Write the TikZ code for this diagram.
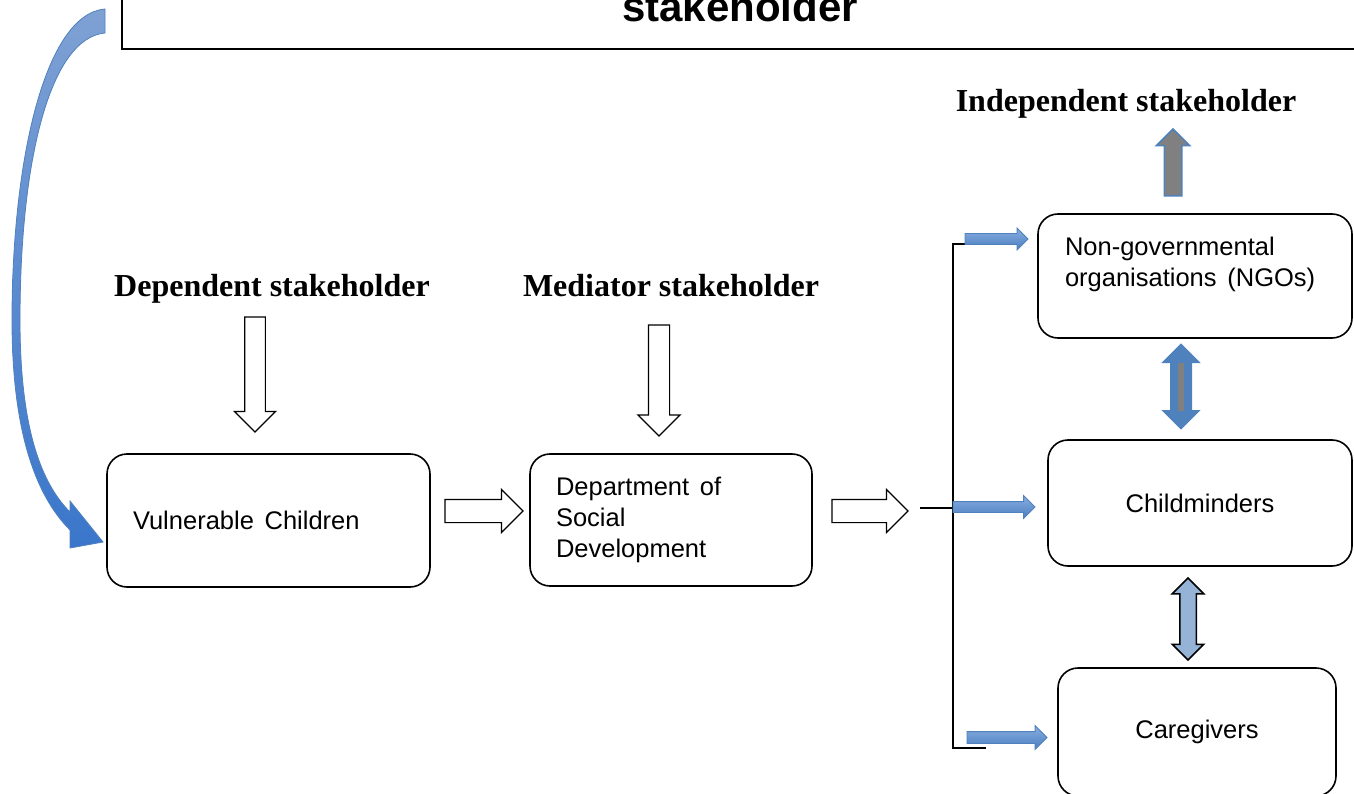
\documentclass[tikz,border=0pt]{standalone}
\usepackage{fontspec}
\setmainfont{Liberation Serif}
\setsansfont{Liberation Sans}
\usepackage{tikz}
\usetikzlibrary{shapes.arrows,calc}
\definecolor{accblue}{HTML}{4F81BD}
\definecolor{paleblue}{HTML}{95B3D7}
\definecolor{blueA}{HTML}{8AAEE0}
\definecolor{blueB}{HTML}{4A7EC0}
\definecolor{curveA}{HTML}{7FA1D4}
\definecolor{curveB}{HTML}{3A76CB}
\newcommand{\gap}{\hspace{0.42em}}

\begin{document}
\begin{tikzpicture}[x=1pt,y=-1pt,
    box/.style={draw, rounded corners=20pt, line width=1.6pt, align=left, inner ysep=0pt,
      font=\sffamily\fontsize{25.5}{31}\selectfont},
    role/.style={anchor=base, font=\bfseries\fontsize{32}{36}\selectfont},
    hollow/.style={single arrow, draw, fill=white, line width=1.2pt, outer sep=0pt, anchor=tail},
    bluearr/.style={single arrow, draw=accblue, line width=0.8pt, top color=blueA,
      bottom color=blueB, outer sep=0pt, anchor=tail, inner sep=5pt},
    link/.style={line width=1.8pt}]
  \useasboundingbox (0,0) rectangle (1354,794);
  \clip (0,0) rectangle (1354,794);
  % heading box, cut at the top
  \node[draw, line width=1.8pt, minimum width=1236pt, minimum height=84.6pt,
    font=\sffamily\bfseries\fontsize{42}{48}\selectfont] (title) at (740,6.7) {stakeholder};
  % stakeholder groups
  \node[role] (dep) at (272,297) {Dependent stakeholder};
  \node[role] (med) at (671,297) {Mediator stakeholder};
  \node[role] (ind) at (1126,112) {Independent stakeholder};
  % boxes
  \node[box, minimum width=323pt, minimum height=133pt, text width=271pt, inner xsep=26pt]
    (vul) at (268.5,520.5) {Vulnerable\gap Children};
  \node[box, minimum width=282pt, minimum height=132pt, text width=230pt, inner xsep=26pt]
    (dsd) at (671,520) {Department\gap of\\Social\\Development};
  \node[box, minimum width=314pt, minimum height=124pt, text width=260pt, inner xsep=27pt,
    text depth=59pt] (ngo) at (1195,276) {Non-governmental\\organisations\gap (NGOs)};
  \node[box, minimum width=304pt, minimum height=126pt] (cm) at (1200,503) {Childminders};
  \node[box, minimum width=278pt, minimum height=128pt] (cg) at (1197,732) {Caregivers};
  % hollow arrows
  \node[hollow, rotate=-90, minimum height=115pt, inner sep=9.75pt,
    single arrow head extend=10.25pt] (ad1) at (255,317) {};
  \node[hollow, rotate=-90, minimum height=111pt, inner sep=10pt,
    single arrow head extend=10.5pt] (ad2) at (659,325) {};
  \node[hollow, minimum height=78pt, inner sep=11pt, single arrow head extend=10pt]
    (ar1) at (445,511) {};
  \node[hollow, minimum height=76pt, inner sep=11pt, single arrow head extend=10pt]
    (ar2) at (832,511) {};
  % fork to the independent stakeholders
  \coordinate (jn) at (920,508);
  \coordinate (fk) at (953,508);
  \coordinate (bt) at (986,244);
  \coordinate (bb) at (986,748);
  \draw[link] (jn) -- (fk);
  \draw[link] (bt) -| (fk) |- (bb);
  \node[bluearr, minimum height=63pt, single arrow head extend=5.5pt] (b1) at (965,239) {};
  \node[bluearr, minimum height=82pt, single arrow head extend=6pt] (b2) at (953,507) {};
  \node[bluearr, minimum height=80pt, inner sep=5.5pt, single arrow head extend=6pt]
    (b3) at (967,737.5) {};
  % arrows between the independent stakeholders
  \node[single arrow, rotate=90, anchor=tail, outer sep=0pt, fill=gray, draw=accblue,
    line width=1.5pt, minimum height=67pt, inner sep=8pt, single arrow head extend=8pt]
    (up) at (1173,196) {};
  \node[double arrow, rotate=90, outer sep=0pt, fill=accblue, draw=accblue, line width=1pt,
    minimum height=85pt, inner sep=10pt, double arrow head extend=8pt] (da1) at (1181,386.5) {};
  \draw[gray, line width=6pt] ($(da1.center)+(0,-24)$) -- ($(da1.center)+(0,24)$);
  \node[double arrow, rotate=90, outer sep=0pt, fill=paleblue, draw, line width=1.5pt,
    minimum height=82pt, inner sep=7.5pt, double arrow head extend=7.5pt] (da2) at (1188,619) {};
  % curved arrow back to the children
  \path[draw=accblue, line width=0.8pt, top color=curveA, bottom color=curveB]
    (105,9) .. controls (45,14) and (12,160) .. (12,320)
    .. controls (12,430) and (35,495) .. (70,530)
    -- (70,548) -- (103,542) -- (70,501) -- (70,512)
    .. controls (38,480) and (20,420) .. (20,320)
    .. controls (20,160) and (50,38) .. (105,33) -- cycle;
\end{tikzpicture}
\end{document}
